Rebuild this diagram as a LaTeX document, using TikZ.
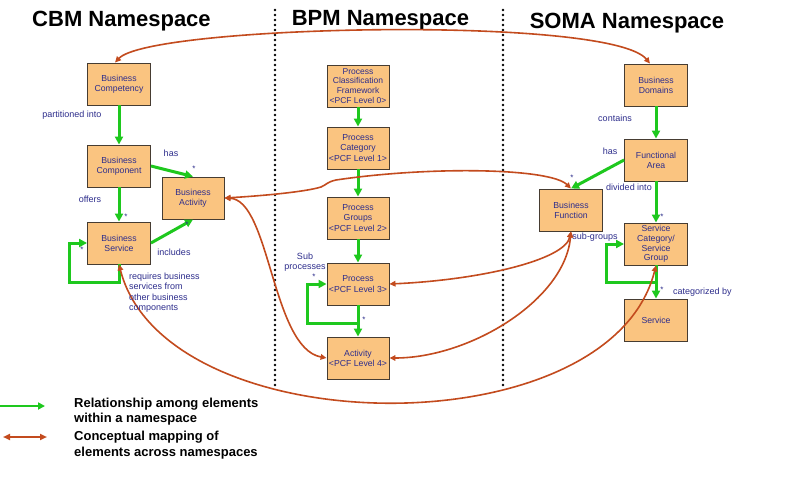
\documentclass[tikz,border=0pt]{standalone}
\usepackage{fontspec}
\setmainfont{Liberation Sans}
\usetikzlibrary{arrows.meta,calc}
\definecolor{boxfill}{RGB}{250,196,128}
\definecolor{boxdraw}{RGB}{70,60,50}
\definecolor{navy}{RGB}{45,45,140}
\definecolor{ggreen}{RGB}{30,200,30}
\definecolor{rred}{RGB}{195,75,30}
\tikzset{
  elem/.style={draw=boxdraw,fill=boxfill,line width=0.9pt,minimum width=63pt,minimum height=42pt,
    inner sep=0pt,align=center,text=navy,font=\fontsize{8.7}{10.2}\selectfont},
  lbl/.style={text=navy,inner sep=0pt,font=\fontsize{9}{10.5}\selectfont},
  star/.style={text=navy,inner sep=0pt,font=\fontsize{8}{8}\selectfont},
  title/.style={anchor=base,inner sep=0pt,font=\fontsize{22}{24}\selectfont\bfseries},
  legtext/.style={anchor=west,align=left,inner sep=0pt,font=\fontsize{13}{15.5}\selectfont\bfseries},
  garrow/.style={draw=ggreen,line width=3pt,-{Triangle[length=8pt,width=8pt]}},
  rarrow/.style={draw=rred,line width=1.6pt,{Triangle[length=6pt,width=5.5pt]}-{Triangle[length=6pt,width=5.5pt]}},
  sep/.style={line width=2.8pt,dash pattern=on 0pt off 5pt,line cap=round}
}
\begin{document}
\begin{tikzpicture}[x=1pt,y=-1pt]
\useasboundingbox[fill=white] (0,0) rectangle (800,500);

% titles
\node[title] (tcbm) at (121.5,27) {CBM Namespace};
\node[title] (tbpm) at (380.5,26) {BPM Namespace};
\node[title] (tsoma) at (627,29) {SOMA Namespace};

% separators
\coordinate (s1a) at (275,10); \coordinate (s1b) at (275,387);
\coordinate (s2a) at (503,10); \coordinate (s2b) at (503,387);
\draw[sep] (s1a) -- (s1b);
\draw[sep] (s2a) -- (s2b);

% CBM
\node[elem] (bcomp) at (119,84) {Business\\Competency};
\node[elem] (bcompo) at (119,166) {Business\\Component};
\node[elem,minimum width=62pt] (bact) at (193,198) {Business\\Activity};
\node[elem] (bserv) at (119,243) {Business\\Service};

% BPM
\node[elem,minimum width=62pt,font=\fontsize{8.5}{9.8}\selectfont] (pcf0) at (358,86) {Process\\Classification\\Framework\\<PCF Level 0>};
\node[elem,minimum width=62pt] (pcf1) at (358,148) {Process\\Category\\<PCF Level 1>};
\node[elem,minimum width=62pt] (pcf2) at (358,218) {Process\\Groups\\<PCF Level 2>};
\node[elem,minimum width=62pt] (pcf3) at (358,284) {Process\\<PCF Level 3>};
\node[elem,minimum width=62pt] (pcf4) at (358,358) {Activity\\<PCF Level 4>};

% SOMA
\node[elem] (bdom) at (656,85) {Business\\Domains};
\node[elem] (farea) at (656,160) {Functional\\Area};
\node[elem] (bfunc) at (571,210) {Business\\Function};
\node[elem,font=\fontsize{8.7}{9.8}\selectfont] (scat) at (656,244) {Service\\Category/\\Service\\Group};
\node[elem] (serv) at (656,320) {Service};

% green relations
\draw[garrow] (bcomp) -- (bcompo);
\draw[garrow] (bcompo.east) -- (bact.north);
\draw[garrow] (bcompo) -- (bserv);
\draw[garrow] (bserv.east) -- (bact.south);
\coordinate (bsl) at (69,282);
\draw[garrow] (bserv.south) |- (bsl) |- (bserv.west);

\draw[garrow] (pcf0) -- (pcf1);
\draw[garrow] (pcf1) -- (pcf2);
\draw[garrow] (pcf2) -- (pcf3);
\draw[garrow] (pcf3) -- (pcf4);
\coordinate (psl) at (307,323);
\draw[garrow] (pcf3.south) |- (psl) |- (pcf3.west);

\draw[garrow] (bdom) -- (farea);
\draw[garrow] (farea.west) -- (bfunc.north);
\draw[garrow] (farea) -- (scat);
\draw[garrow] (scat) -- (serv);
\coordinate (ssl) at (606,282);
\draw[garrow] (scat.south) |- (ssl) |- (scat.west);

% red mappings
\draw[rarrow] ([xshift=-4pt]bcomp.north) .. controls (150,25) and (610,15) .. ([xshift=-6pt]bdom.north);
\draw[rarrow] (bact.east) .. controls (260,196) and (305,192) .. (321,187)
   .. controls (326,185) and (327,182) .. (336,180)
   .. controls (430,166) and (550,168) .. (bfunc.north);
\draw[rarrow] (bact.east) .. controls (270,200) and (272,348) .. (pcf4.west);
\draw[rarrow] (bserv.south) .. controls (165,445) and (610,450) .. (scat.south);
\draw[rarrow] (pcf3.east) .. controls (480,280) and (565,260) .. (bfunc.south);
\draw[rarrow] (pcf4.east) .. controls (470,358) and (565,300) .. (bfunc.south);

% labels
\node[lbl] (l1) at (72,115) {partitioned into};
\node[lbl] (l2) at (171,153) {has};
\node[lbl] (l3) at (90,199) {offers};
\node[lbl] (l4) at (174,252) {includes};
\node[lbl,anchor=west,align=left] (l5) at (129,292.5) {requires business\\services from\\other business\\components};
\node[lbl,align=center,font=\fontsize{9}{10}\selectfont] (l6) at (305,262) {Sub\\processes};
\node[lbl] (l7) at (615,118) {contains};
\node[lbl] (l8) at (610,151) {has};
\node[lbl] (l9) at (629,187) {divided into};
\node[lbl] (l10) at (595,237) {sub-groups};
\node[lbl,anchor=west] (l11) at (673,292) {categorized by};

\node[star] (st1) at (194,169) {*};
\node[star] (st2) at (126,217) {*};
\node[star] (st3) at (82,250) {*};
\node[star] (st4) at (187,225) {*};
\node[star] (st5) at (314,277) {*};
\node[star] (st6) at (364,320) {*};
\node[star] (st7) at (572,178) {*};
\node[star] (st8) at (662,217) {*};
\node[star] (st9) at (662,290) {*};

% legend
\coordinate (lg1) at (0,406); \coordinate (lg2) at (45,406);
\coordinate (lr1) at (3,437); \coordinate (lr2) at (47,437);
\draw[garrow,line width=2.6pt,-{Triangle[length=7pt,width=7pt]}] (lg1) -- (lg2);
\draw[rarrow,line width=2.4pt,{Triangle[length=7pt,width=6pt]}-{Triangle[length=7pt,width=6pt]}] (lr1) -- (lr2);
\node[legtext] (lt1) at (74,411.5) {Relationship among elements\\within a namespace};
\node[legtext] (lt2) at (74,445) {Conceptual mapping of\\elements across namespaces};
\end{tikzpicture}
\end{document}
